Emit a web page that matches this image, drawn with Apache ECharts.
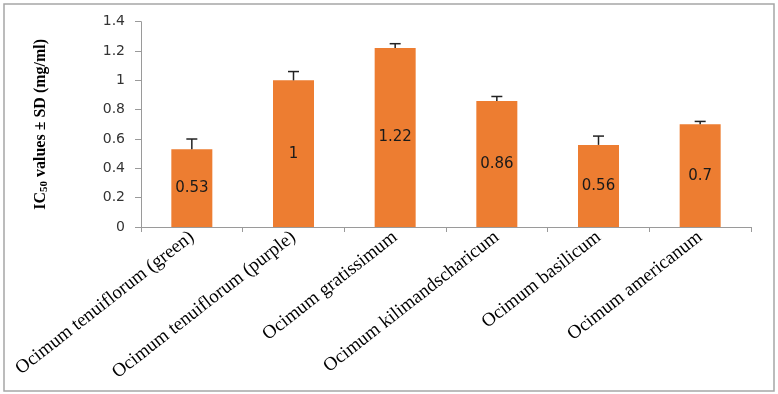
<!DOCTYPE html>
<html>
<head>
<meta charset="utf-8">
<script src="https://cdn.jsdelivr.net/npm/echarts@6/dist/echarts.min.js"></script>
<style>
html,body{margin:0;padding:0;background:#fff;}
#chart{width:778px;height:394px;}
</style>
</head>
<body>
<div id="chart"></div>
<script>
var categories = [
  'Ocimum tenuiflorum (green)',
  'Ocimum tenuiflorum (purple)',
  'Ocimum gratissimum',
  'Ocimum kilimandscharicum',
  'Ocimum basilicum',
  'Ocimum americanum'
];
var ic50Values = [0.53, 1, 1.22, 0.86, 0.56, 0.7];
var sdValues = [0.07, 0.06, 0.03, 0.03, 0.06, 0.02];
var yTicks = [0, 0.2, 0.4, 0.6, 0.8, 1, 1.2, 1.4];

var errorData = ic50Values.map(function (v, i) { return [i, v, v + sdValues[i]]; });

var chart = echarts.init(document.getElementById('chart'));
chart.setOption({
  animation: false,
  backgroundColor: '#fff',
  graphic: [{
    type: 'rect',
    shape: { x: 4, y: 4, width: 770, height: 387 },
    style: { fill: 'none', stroke: '#a6a6a6', lineWidth: 1.5 },
    silent: true
  }],
  grid: { left: 141, right: 27, top: 21.7, bottom: 167 },
  xAxis: {
    type: 'category',
    data: categories,
    axisLine: { lineStyle: { color: '#9a9a9a', width: 1 } },
    axisTick: { show: true, length: 5, lineStyle: { color: '#9a9a9a' } },
    axisLabel: {
      rotate: 38,
      interval: 0,
      margin: 8,
      fontFamily: '"Liberation Serif", "Times New Roman", serif',
      fontSize: 19,
      color: '#000'
    }
  },
  yAxis: {
    type: 'value',
    min: 0,
    max: yTicks[yTicks.length - 1],
    interval: 0.2,
    splitLine: { show: false },
    axisLine: { show: true, lineStyle: { color: '#9a9a9a', width: 1 } },
    axisTick: { show: true, length: 6, lineStyle: { color: '#9a9a9a' } },
    axisLabel: {
      margin: 16,
      fontFamily: '"DejaVu Sans", Verdana, sans-serif',
      fontSize: 14,
      color: '#333',
      formatter: function (v) { return String(Math.round(v * 10) / 10); }
    },
    name: '{a|IC}{b|50}{a| values ± SD (mg/ml)}',
    nameLocation: 'middle',
    nameRotate: 90,
    nameGap: 90,
    nameTextStyle: {
      rich: {
        a: { fontFamily: '"Liberation Serif", "Times New Roman", serif', fontSize: 16, fontWeight: 'bold', color: '#000', lineHeight: 20 },
        b: { fontFamily: '"Liberation Serif", "Times New Roman", serif', fontSize: 11, fontWeight: 'bold', color: '#000', lineHeight: 20, padding: [7, 0, 0, 0] }
      }
    }
  },
  series: [{
    type: 'bar',
    data: ic50Values,
    barWidth: 41,
    itemStyle: { color: '#ED7D31' },
    label: {
      show: true,
      position: 'inside',
      fontFamily: '"DejaVu Sans", Verdana, sans-serif',
      fontSize: 15,
      color: '#1a1a1a'
    }
  }, {
    type: 'custom',
    data: errorData,
    z: 5,
    renderItem: function (params, api) {
      var x = api.value(0);
      var p0 = api.coord([x, api.value(1)]);
      var p1 = api.coord([x, api.value(2)]);
      var hw = 5.5;
      var st = { stroke: '#222', lineWidth: 1.5 };
      return {
        type: 'group',
        children: [
          { type: 'line', shape: { x1: p0[0], y1: p0[1], x2: p1[0], y2: p1[1] }, style: st },
          { type: 'line', shape: { x1: p1[0] - hw, y1: p1[1], x2: p1[0] + hw, y2: p1[1] }, style: st }
        ]
      };
    }
  }]
});
</script>
</body>
</html>
